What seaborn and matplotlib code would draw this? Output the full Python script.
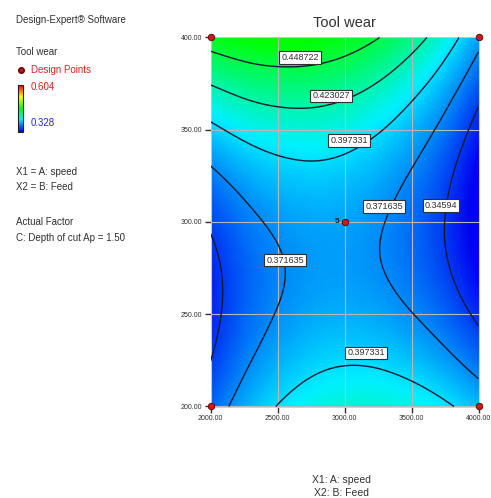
import numpy as np
import matplotlib
matplotlib.use("Agg")
import matplotlib.pyplot as plt
import matplotlib.tri as mtri
from matplotlib.colors import LinearSegmentedColormap, Normalize
from matplotlib.cm import ScalarMappable
from matplotlib.lines import Line2D
import pandas as pd
import seaborn as sns

# A: speed (x) and B: Feed (y) grid, tool wear
speed = [2000, 2250, 2500, 2750, 3000, 3250, 3500, 3750, 4000]
feed = [200, 225, 250, 275, 300, 325, 350, 375, 400]
tool_wear = [
    [0.3583, 0.3816, 0.3980, 0.4084, 0.4134, 0.4136, 0.4093, 0.4006, 0.3874],  # feed 200
    [0.3457, 0.3675, 0.3826, 0.3917, 0.3954, 0.3942, 0.3883, 0.3775, 0.3618],
    [0.3390, 0.3591, 0.3726, 0.3803, 0.3827, 0.3800, 0.3723, 0.3596, 0.3414],
    [0.3398, 0.3580, 0.3698, 0.3760, 0.3770, 0.3727, 0.3634, 0.3486, 0.3280],
    [0.3490, 0.3651, 0.3752, 0.3798, 0.3792, 0.3735, 0.3624, 0.3457, 0.3228],  # feed 300
    [0.3667, 0.3805, 0.3888, 0.3918, 0.3897, 0.3824, 0.3698, 0.3512, 0.3261],
    [0.3922, 0.4037, 0.4100, 0.4114, 0.4078, 0.3991, 0.3849, 0.3646, 0.3375],
    [0.4239, 0.4330, 0.4374, 0.4372, 0.4322, 0.4221, 0.4065, 0.3847, 0.3558],
    [0.4596, 0.4664, 0.4688, 0.4670, 0.4606, 0.4494, 0.4326, 0.4094, 0.3789],  # feed 400
]
levels = [0.34594, 0.371635, 0.397331, 0.423027, 0.448722]
# where each contour label box sits (speed, feed)
label_spots = [(3720, 309.2), (2556, 279.4), (3295, 308.3), (3034, 344.4),
               (3160, 229.0), (2899, 368.3), (2668, 388.9)]

design_speed = [2000, 2000, 4000, 4000, 3000]
design_feed = [200, 400, 200, 400, 300]
x_ticks = [2000, 2500, 3000, 3500, 4000]
y_ticks = [200, 250, 300, 350, 400]
wear_min, wear_max = 0.328, 0.604

sns.set_style("white")
plt.rcParams["font.family"] = ["Liberation Sans", "DejaVu Sans"]

W, H = 491, 498
fig = plt.figure(figsize=(W / 100, H / 100), dpi=100)
ax = fig.add_axes([210.5 / W, 1 - 406.5 / H, 268 / W, 369 / H])

cmap = LinearSegmentedColormap.from_list(
    "design_expert",
    [(0, "#0000f0"), (0.27, "#00f0ff"), (0.5, "#00ff00"), (0.75, "#ffff00"), (1, "#ff0000")])
norm = Normalize(wear_min, wear_max)

S, F = np.meshgrid(speed, feed)
Z = np.array(tool_wear)
tri = mtri.Triangulation(S.ravel().astype(float), F.ravel().astype(float))
tri_f, z_f = mtri.UniformTriRefiner(tri).refine_field(Z.ravel(), subdiv=3)
ax.tripcolor(tri_f, z_f, cmap=cmap, norm=norm, shading="gouraud", zorder=1)
cs = ax.tricontour(tri_f, z_f, levels=levels, colors="#0d1a33", linewidths=1.0, zorder=3)
labels = ax.clabel(cs, fmt={lv: f"{lv:g}" for lv in levels}, manual=label_spots,
                   inline=False, fontsize=6.5, colors="#303030")
for t in labels:
    # keep the box where it sits in the reference, upright
    x, y = t.get_position()
    spot = min(label_spots, key=lambda p: (p[0] - x) ** 2 / 1e4 + (p[1] - y) ** 2 / 1e2)
    t.set_position(spot)
    t.set_rotation(0)
    t.set_zorder(6)
    t.set_bbox(dict(boxstyle="square,pad=0.22", fc="white", ec="#303030", lw=0.8))

pts = pd.DataFrame({"speed": design_speed, "feed": design_feed})
sns.scatterplot(data=pts, x="speed", y="feed", ax=ax, s=22, color="#d01818",
                edgecolor="#5a0000", linewidth=0.6, zorder=7, clip_on=False)
ax.annotate("5", (3000, 300), xytext=(-3.5, 0.5), textcoords="offset points",
            ha="right", va="center", fontsize=6, fontweight="bold", color="#202020", zorder=7)

ax.set_xlim(2000, 4000)
ax.set_ylim(200, 400)
ax.set_xticks(x_ticks)
ax.set_yticks(y_ticks)
ax.set_xticklabels([f"{x:.2f}" for x in x_ticks])
ax.set_yticklabels([f"{y:.2f}" for y in y_ticks])
ax.tick_params(direction="out", length=4, width=1, colors="#303030", labelsize=5, pad=2,
               left=True, bottom=True)
ax.set_axisbelow("line")
ax.grid(True, color="#b8b8b8", lw=0.8)
ax.set_xlabel("")
ax.set_ylabel("")
for s in ax.spines.values():
    s.set_color("#c8c8c8")
    s.set_linewidth(0.6)

fig.text(344 / W, 1 - 23 / H, "Tool wear", ha="center", va="center", fontsize=10.5, color="#303030")

# left side legend panel
txt = dict(ha="left", va="center", fontsize=7, color="#303030")
fig.text(16 / W, 1 - 20 / H, "Design-Expert® Software", **txt)
fig.text(16 / W, 1 - 52 / H, "Tool wear", **txt)
fig.add_artist(Line2D([21 / W], [1 - 70 / H], marker="o", ms=4, color="#c01818",
                      mec="#5a0000", transform=fig.transFigure))
fig.text(31 / W, 1 - 70 / H, "Design Points", ha="left", va="center", fontsize=7, color="#e02020")
cax = fig.add_axes([18 / W, 1 - 132 / H, 5 / W, 47 / H])
cb = fig.colorbar(ScalarMappable(norm=norm, cmap=cmap), cax=cax)
cb.set_ticks([])
cb.outline.set_edgecolor("#202020")
cb.outline.set_linewidth(0.8)
fig.text(31 / W, 1 - 87 / H, f"{wear_max:.3f}", ha="left", va="center", fontsize=7, color="#e02020")
fig.text(31 / W, 1 - 123 / H, f"{wear_min:.3f}", ha="left", va="center", fontsize=7, color="#2828d8")
fig.text(16 / W, 1 - 172 / H, "X1 = A: speed", **txt)
fig.text(16 / W, 1 - 187 / H, "X2 = B: Feed", **txt)
fig.text(16 / W, 1 - 222 / H, "Actual Factor", **txt)
fig.text(16 / W, 1 - 238 / H, "C: Depth of cut Ap = 1.50", **txt)

fig.text(342 / W, 1 - 480 / H, "X1: A: speed", ha="center", va="center", fontsize=7.5, color="#303030")
fig.text(342 / W, 1 - 493 / H, "X2: B: Feed", ha="center", va="center", fontsize=7.5, color="#303030")

fig.savefig("out.png", dpi=100)
